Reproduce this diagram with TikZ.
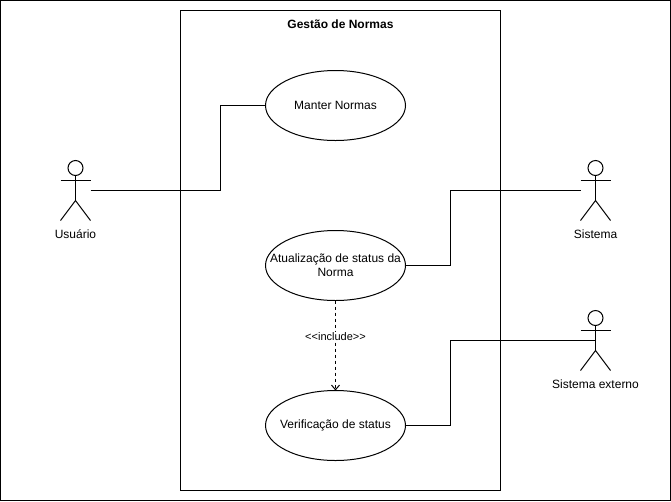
\documentclass[tikz,border=0pt]{standalone}
\usepackage{fontspec}
\setmainfont{Liberation Sans}
\usetikzlibrary{positioning,arrows.meta,shapes.geometric}

\begin{document}
\begin{tikzpicture}[
        x=0.75pt, y=-0.75pt,
        line width=0.75pt,
        font=\fontsize{9}{10.5}\selectfont,
        node distance=67.5pt and 40pt,
        system/.style={draw, inner sep=0pt, outer sep=0pt, minimum width=240pt, minimum height=360pt},
        usecase/.style={draw, ellipse, inner sep=0pt, outer sep=0pt, minimum width=105pt, minimum height=52.5pt},
        actor/.style={inner sep=0pt, outer sep=0pt, minimum width=22.5pt, minimum height=45pt},
        actorname/.style={inner sep=0pt, anchor=center, yshift=-10.2pt},
        arr/.style={-{Straight Barb[length=3.5pt,width=6pt]}, dashed, dash pattern=on 2.25pt off 2.25pt},
    ]
        \useasboundingbox (0,0) rectangle (671,501);
        \draw (0.5,0.5) rectangle (670.5,500.5);

        \node[system] (system) at (340.5,250.5) {};
        \node[font=\fontsize{9}{10.5}\selectfont\bfseries, below=3.4pt of system.north] (title) {Gestão de Normas};

        \node[usecase, label={center:Manter Normas}] (manter) at (335.5,105.5) {};
        \node[usecase, below=of manter, label={[align=center]center:Atualização de status da\\Norma}] (status) {};
        \node[usecase, below=of status, label={center:Verificação de status}] (verif) {};

        \node[actor] (usuario) at (75.5,190.5) {};
        \node[actor] (sistema) at (595.5,190.5) {};
        \node[actor] (externo) at (595.5,340.5) {};
        \node[actorname] at (usuario.south) (nameusuario) {Usuário};
        \node[actorname] at (sistema.south) (namesistema) {Sistema};
        \node[actorname] at (externo.south) (nameexterno) {Sistema externo};

        \coordinate (bendusuario) at (220.5,150);
        \coordinate (bendsistema) at (450.5,230);
        \coordinate (bendexterno) at (450.5,380);

        % stick figures
        \foreach \who in {usuario,sistema,externo} {
            \begin{scope}[shift={(\who.center)}]
                \draw (0,-22.5) circle[radius=5.625pt];
                \draw (0,-15) -- (0,10);
                \draw (-15,-10) -- (15,-10);
                \draw (-15,30) -- (0,10) -- (15,30);
            \end{scope}
        }

        \draw (usuario.east) -| (bendusuario) |- (manter.west);
        \draw (status.east) -| (bendsistema) |- (sistema.west);
        \draw (verif.east) -| (bendexterno) |- (externo.center);

        \draw[arr] (status) -- (verif)
            node[midway, fill=white, inner sep=0.5pt, font=\fontsize{8.25}{9}\selectfont, yshift=6.75pt] (inc) {{<}{<}include{>}{>}};
    \end{tikzpicture}
\end{document}
